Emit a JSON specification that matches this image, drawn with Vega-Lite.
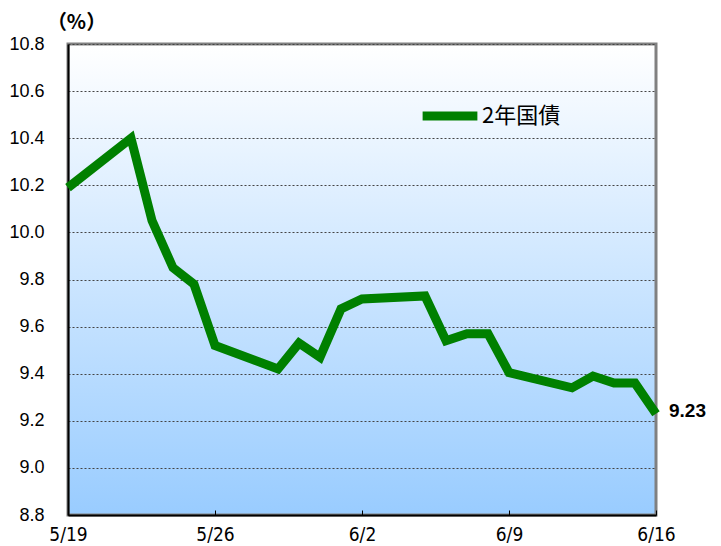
{
  "$schema": "https://vega.github.io/schema/vega-lite/v6.json",
  "width": 588,
  "height": 471,
  "autosize": {"type": "none"},
  "padding": {"left": 68, "top": 44, "right": 65, "bottom": 31},
  "background": "white",
  "config": {
    "view": {
      "stroke": "#808080",
      "strokeWidth": 3,
      "fill": {"gradient": "linear", "x1": 0, "y1": 0, "x2": 0, "y2": 1, "stops": [{"offset": 0, "color": "#ffffff"}, {"offset": 1, "color": "#99ccff"}]}
    }
  },
  "data": {
    "values": [
      {"date": "2014-05-19", "series": "2年国債", "value": 10.19},
      {"date": "2014-05-22", "series": "2年国債", "value": 10.40},
      {"date": "2014-05-23", "series": "2年国債", "value": 10.05},
      {"date": "2014-05-24", "series": "2年国債", "value": 9.85},
      {"date": "2014-05-25", "series": "2年国債", "value": 9.78},
      {"date": "2014-05-26", "series": "2年国債", "value": 9.52},
      {"date": "2014-05-29", "series": "2年国債", "value": 9.42},
      {"date": "2014-05-30", "series": "2年国債", "value": 9.53},
      {"date": "2014-05-31", "series": "2年国債", "value": 9.47},
      {"date": "2014-06-01", "series": "2年国債", "value": 9.675},
      {"date": "2014-06-02", "series": "2年国債", "value": 9.717},
      {"date": "2014-06-05", "series": "2年国債", "value": 9.73},
      {"date": "2014-06-06", "series": "2年国債", "value": 9.54},
      {"date": "2014-06-07", "series": "2年国債", "value": 9.57},
      {"date": "2014-06-08", "series": "2年国債", "value": 9.57},
      {"date": "2014-06-09", "series": "2年国債", "value": 9.405},
      {"date": "2014-06-12", "series": "2年国債", "value": 9.34},
      {"date": "2014-06-13", "series": "2年国債", "value": 9.39},
      {"date": "2014-06-14", "series": "2年国債", "value": 9.36},
      {"date": "2014-06-15", "series": "2年国債", "value": 9.36},
      {"date": "2014-06-16", "series": "2年国債", "value": 9.23, "label": "9.23"}
    ]
  },
  "encoding": {
    "x": {
      "field": "date",
      "type": "temporal",
      "scale": {"type": "utc", "domain": [{"utc": true, "year": 2014, "month": 5, "date": 19}, {"utc": true, "year": 2014, "month": 6, "date": 16}], "nice": false},
      "axis": {
        "title": null,
        "format": "%-m/%-d",
        "values": [
          {"utc": true, "year": 2014, "month": 5, "date": 19},
          {"utc": true, "year": 2014, "month": 5, "date": 26},
          {"utc": true, "year": 2014, "month": 6, "date": 2},
          {"utc": true, "year": 2014, "month": 6, "date": 9},
          {"utc": true, "year": 2014, "month": 6, "date": 16}
        ],
        "grid": false,
        "domainColor": "#000000",
        "domainWidth": 2,
        "tickColor": "#000000",
        "tickSize": -5,
        "tickWidth": 1,
        "labelPadding": 15,
        "labelFont": "Liberation Sans Narrow, DejaVu Sans Condensed, Noto Sans CJK JP",
        "labelFontSize": 19,
        "labelColor": "#000000",
        "labelBaseline": "top",
        "labelFlush": false
      }
    },
    "y": {
      "field": "value",
      "type": "quantitative",
      "scale": {"domain": [8.8, 10.8], "nice": false, "zero": false},
      "axis": {
        "title": "（%）",
        "titleAngle": 0,
        "titleX": 8,
        "titleY": -22,
        "titleAlign": "center",
        "titleBaseline": "middle",
        "titleFont": "Noto Sans CJK JP",
        "titleFontSize": 20,
        "titleFontWeight": "bold",
        "titleColor": "#000000",
        "values": [8.8, 9.0, 9.2, 9.4, 9.6, 9.8, 10.0, 10.2, 10.4, 10.6, 10.8],
        "format": ".1f",
        "ticks": false,
        "labelPadding": 24,
        "labelFont": "Liberation Sans",
        "labelFontSize": 18,
        "labelColor": "#000000",
        "labelFlush": false,
        "domainColor": "#000000",
        "domainWidth": 2,
        "grid": true,
        "gridColor": "#444444",
        "gridDash": [2, 2],
        "gridWidth": 1
      }
    }
  },
  "layer": [
    {
      "mark": {"type": "line", "strokeWidth": 9, "strokeJoin": "miter"},
      "encoding": {
        "color": {
          "field": "series",
          "type": "nominal",
          "scale": {"range": ["#008000"]},
          "legend": {
            "title": null,
            "orient": "none",
            "legendX": 350,
            "legendY": 40,
            "padding": 0,
            "symbolType": "stroke",
            "symbolStrokeWidth": 9,
            "symbolSize": 3000,
            "labelFont": "Noto Sans CJK JP",
            "labelFontSize": 22,
            "labelColor": "#000000",
            "labelOffset": 0
          }
        }
      }
    },
    {
      "transform": [{"filter": "datum.label != null"}],
      "mark": {"type": "text", "align": "left", "baseline": "middle", "dx": 13, "dy": -3, "font": "Liberation Sans", "fontSize": 19, "fontWeight": "bold", "color": "#000000"},
      "encoding": {"text": {"field": "label"}}
    }
  ]
}
